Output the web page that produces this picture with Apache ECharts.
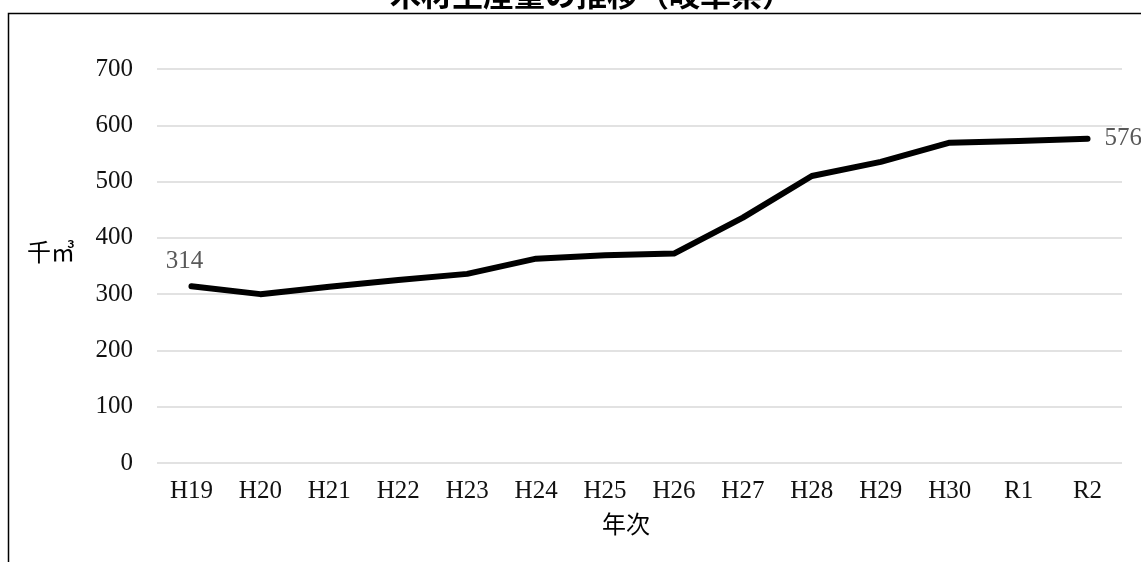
<!DOCTYPE html>
<html>
<head>
<meta charset="utf-8">
<script src="https://cdn.jsdelivr.net/npm/echarts@6/dist/echarts.min.js"></script>
<style>
html,body{margin:0;padding:0;background:#fff;}
#chart{width:1141px;height:562px;}
</style>
</head>
<body>
<div id="chart"></div>
<script>
var titleText = '木材生産量の推移（岐阜県）';
var categories = ['H19','H20','H21','H22','H23','H24','H25','H26','H27','H28','H29','H30','R1','R2'];
var values = [314, 300, 313, 325, 336, 363, 369, 372, 436, 510, 535, 569, 572, 576];
var yAxisName = '千㎥';
var xAxisName = '年次';

var serif = '"Liberation Serif", "DejaVu Serif", "Noto Sans CJK JP", serif';
var chart = echarts.init(document.getElementById('chart'));

var lastIdx = values.length - 1;
var seriesData = values.map(function (v, i) {
  if (i === 0) {
    return { value: v, label: { show: true, position: 'top', distance: 12, offset: [-7, 0] } };
  }
  if (i === lastIdx) {
    return { value: v, label: { show: true, position: 'right', distance: 17 } };
  }
  return v;
});

chart.setOption({
  animation: false,
  backgroundColor: '#fff',
  title: {
    text: titleText,
    left: 385,
    top: -26,
    textStyle: { fontFamily: '"Noto Sans CJK JP", sans-serif', fontWeight: 'bold', fontSize: 31, color: '#000' }
  },
  graphic: [
    { type: 'rect', left: 6, top: 11, shape: { width: 1300, height: 700 }, style: { fill: null, stroke: '#000', lineWidth: 1.5 }, z: -1 },
    { type: 'text', left: 27, top: 240, style: { text: yAxisName, font: '24px "Noto Sans CJK JP", serif', fill: '#000' } },
    { type: 'text', left: 602, top: 512, style: { text: xAxisName, font: '24px "Noto Sans CJK JP", serif', fill: '#000' } }
  ],
  grid: { left: 157, right: 19, top: 69, bottom: 99, containLabel: false },
  xAxis: {
    type: 'category',
    data: categories,
    boundaryGap: true,
    axisLine: { show: false },
    axisTick: { show: false },
    axisLabel: { margin: 16, fontFamily: serif, fontSize: 25, color: '#111' }
  },
  yAxis: {
    type: 'value',
    min: 0,
    max: 700,
    interval: 100,
    axisLine: { show: false },
    axisTick: { show: false },
    splitLine: { lineStyle: { color: '#d9d9d9', width: 1.5 } },
    axisLabel: { margin: 24, fontFamily: serif, fontSize: 25, color: '#111' }
  },
  series: [{
    type: 'line',
    data: seriesData,
    symbol: 'circle',
    symbolSize: 0.1,
    showSymbol: true,
    itemStyle: { color: '#000' },
    lineStyle: { color: '#000', width: 6, cap: 'round', join: 'round' },
    label: { show: false, fontFamily: serif, fontSize: 25, color: '#595959' }
  }]
});
</script>
</body>
</html>
